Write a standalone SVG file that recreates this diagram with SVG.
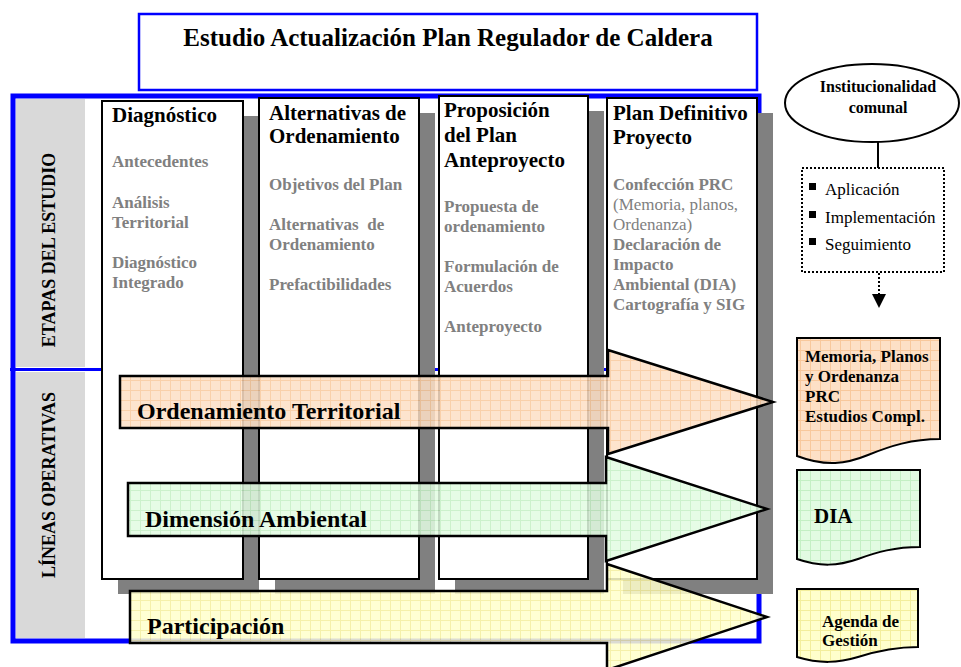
<svg xmlns="http://www.w3.org/2000/svg" width="961" height="667" viewBox="0 0 961 667">
<style>
text{font-family:"Liberation Serif","Times New Roman",serif;font-weight:bold;}
.h{font-size:21px;fill:#000;}
.it{font-size:17px;fill:#808080;}
.itr{font-size:17px;fill:#808080;font-weight:normal;}
.arrl{font-size:24px;fill:#000;}
.doc{font-size:17px;fill:#000;}
.bl{font-size:17px;fill:#000;font-weight:normal;}
.col{fill:#fff;stroke:#000;stroke-width:2;}
.shadow{fill:#808080;}
.arrow{stroke:#000;stroke-width:2.5;fill-opacity:0.86;}
.docshape{stroke:#000;stroke-width:2;}
.side{font-size:18px;fill:#000;}
</style>
<defs>
<pattern id="pPeach" width="10" height="10" patternUnits="userSpaceOnUse">
<rect width="10" height="10" fill="#fde0c6"/>
<path d="M0,0.5H10M0.5,0V10" stroke="#f8c89c" stroke-width="1"/>
</pattern>
<pattern id="pGreen" width="10" height="10" patternUnits="userSpaceOnUse">
<rect width="10" height="10" fill="#e2fbe2"/>
<path d="M0,0.5H10M0.5,0V10" stroke="#c4efc4" stroke-width="1"/>
</pattern>
<pattern id="pYellow" width="10" height="10" patternUnits="userSpaceOnUse">
<rect width="10" height="10" fill="#ffffcc"/>
<path d="M0,0.5H10M0.5,0V10" stroke="#f3ee9c" stroke-width="1"/>
</pattern>
</defs>

<g id="frame">
<rect x="13" y="96" width="746" height="545" fill="#fff" stroke="#0000ff" stroke-width="5"/>
<rect x="16" y="99" width="69" height="268" fill="#d9d9d9"/>
<rect x="16" y="372" width="69" height="266" fill="#d9d9d9"/>
<line x1="10" y1="369.5" x2="762" y2="369.5" stroke="#0000ff" stroke-width="3"/>
<text class="side" transform="translate(55,250) rotate(-90)" text-anchor="middle">ETAPAS DEL ESTUDIO</text>
<text class="side" transform="translate(55,485) rotate(-90)" text-anchor="middle">LÍNEAS OPERATIVAS</text>
</g>

<g id="title">
<rect x="139" y="14" width="618" height="76" fill="#fff" stroke="#0000ff" stroke-width="2.5"/>
<text x="448" y="46" text-anchor="middle" style="font-size:25px">Estudio Actualización Plan Regulador de Caldera</text>
</g>

<g id="col-diagnostico">
<rect class="shadow" x="118" y="116" width="141" height="478"/>
<rect class="col" x="102" y="101" width="141" height="478"/>
<text class="h" x="112" y="122">Diagnóstico</text>
<text class="it" x="112" y="167">Antecedentes</text>
<text class="it" x="112" y="208">Análisis</text>
<text class="it" x="112" y="228">Territorial</text>
<text class="it" x="112" y="268">Diagnóstico</text>
<text class="it" x="112" y="288">Integrado</text>
</g>

<g id="col-alternativas">
<rect class="shadow" x="275" y="113" width="160" height="481"/>
<rect class="col" x="259" y="98" width="160" height="481"/>
<text class="h" x="269" y="120">Alternativas de</text>
<text class="h" x="269" y="143">Ordenamiento</text>
<text class="it" x="269" y="190">Objetivos del Plan</text>
<text class="it" x="269" y="230" xml:space="preserve">Alternativas  de</text>
<text class="it" x="269" y="250">Ordenamiento</text>
<text class="it" x="269" y="290">Prefactibilidades</text>
</g>

<g id="col-proposicion">
<rect class="shadow" x="455" y="111" width="149" height="483"/>
<rect class="col" x="439" y="96" width="149" height="483"/>
<text class="h" x="444" y="117">Proposición</text>
<text class="h" x="444" y="142">del Plan</text>
<text class="h" x="444" y="167">Anteproyecto</text>
<text class="it" x="444" y="212">Propuesta de</text>
<text class="it" x="444" y="232">ordenamiento</text>
<text class="it" x="444" y="272">Formulación de</text>
<text class="it" x="444" y="292">Acuerdos</text>
<text class="it" x="444" y="332">Anteproyecto</text>
</g>

<g id="col-plan">
<rect class="shadow" x="623" y="113" width="150" height="481"/>
<rect class="col" x="607" y="98" width="150" height="481"/>
<text class="h" x="613" y="120">Plan Definitivo</text>
<text class="h" x="613" y="144">Proyecto</text>
<text class="it" x="613" y="190">Confección PRC</text>
<text class="itr" x="613" y="210">(Memoria, planos,</text>
<text class="itr" x="613" y="230">Ordenanza)</text>
<text class="it" x="613" y="250">Declaración de</text>
<text class="it" x="613" y="270">Impacto</text>
<text class="it" x="613" y="290">Ambiental (DIA)</text>
<text class="it" x="613" y="310">Cartografía y SIG</text>
</g>

<g id="arrow-ordenamiento">
<path class="arrow" fill="url(#pPeach)" d="M120,376H608V350L773,402L608,454V428H120Z"/>
<text class="arrl" x="137" y="419">Ordenamiento Territorial</text>
</g>

<g id="arrow-ambiental">
<path class="arrow" fill="url(#pGreen)" d="M128,483H606V457L767,509L606,561V536H128Z"/>
<text class="arrl" x="145" y="527">Dimensión Ambiental</text>
</g>

<g id="arrow-participacion">
<path class="arrow" fill="url(#pYellow)" d="M130,591H607V564L767,617L607,670V643H130Z"/>
<text class="arrl" x="147" y="634">Participación</text>
</g>

<g id="institucionalidad">
<ellipse cx="872" cy="103" rx="87" ry="39" fill="#fff" stroke="#000" stroke-width="2"/>
<text x="878" y="92" text-anchor="middle" style="font-size:16px">Institucionalidad</text>
<text x="878" y="113" text-anchor="middle" style="font-size:16px">comunal</text>
</g>

<g id="acciones">
<rect x="802" y="168" width="142" height="104" fill="#fff" stroke="#000" stroke-width="2" stroke-dasharray="2,2"/>
<rect x="809" y="183" width="7" height="7" fill="#000"/>
<rect x="809" y="211" width="7" height="7" fill="#000"/>
<rect x="809" y="238" width="7" height="7" fill="#000"/>
<text class="bl" x="825" y="195">Aplicación</text>
<text class="bl" x="825" y="223">Implementación</text>
<text class="bl" x="825" y="250">Seguimiento</text>
</g>

<g id="connectors">
<line x1="878" y1="142" x2="878" y2="168" stroke="#000" stroke-width="2"/>
<line x1="879" y1="273" x2="879" y2="295" stroke="#000" stroke-width="2" stroke-dasharray="2,2"/>
<polygon points="872,294 886,294 879,308" fill="#000"/>
</g>

<g id="doc-memoria">
<path class="docshape" fill="url(#pPeach)" d="M797,338H940V439C912,439 890,446 868,455C846,464 826,467 797,456Z"/>
<text class="doc" x="805" y="362">Memoria, Planos</text>
<text class="doc" x="805" y="382">y Ordenanza</text>
<text class="doc" x="805" y="402">PRC</text>
<text class="doc" x="805" y="422">Estudios Compl.</text>
</g>

<g id="doc-dia">
<path class="docshape" fill="url(#pGreen)" d="M797,470H920V547C895,547 877,552 858,559C838,566 820,567 797,559Z"/>
<text x="814" y="523" style="font-size:21px">DIA</text>
</g>

<g id="doc-agenda">
<path class="docshape" fill="url(#pYellow)" d="M797,589H918V647C895,647 877,651 858,657C838,663 820,664 797,657Z"/>
<text class="doc" x="822" y="627">Agenda de</text>
<text class="doc" x="822" y="646">Gestión</text>
</g>
</svg>
